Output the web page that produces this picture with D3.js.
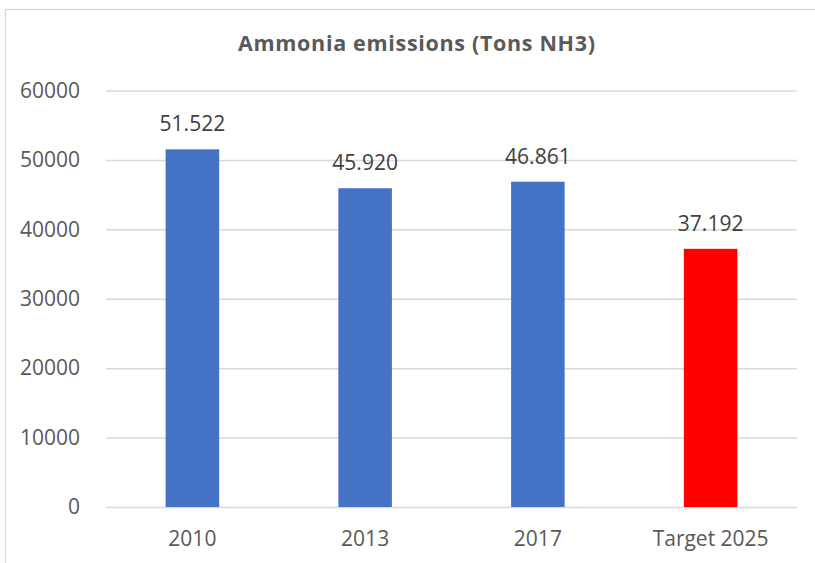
<!DOCTYPE html>
<html>
<head>
<meta charset="utf-8">
<script src="https://cdn.jsdelivr.net/npm/d3@7"></script>
<style>
  body { margin: 0; background: #fff; }
  svg { display: block; }
</style>
</head>
<body>
<div id="chart-container"></div>
<script>
// Data
const categories = ["2010", "2013", "2017", "Target 2025"];
const values = [51522, 45920, 46861, 37192];
const valueLabels = ["51.522", "45.920", "46.861", "37.192"];
const barColors = ["#4472C4", "#4472C4", "#4472C4", "#FF0000"];
const yTicks = [0, 10000, 20000, 30000, 40000, 50000, 60000];

const W = 815, H = 563;
const margin = { top: 90.5, right: 18, bottom: 56, left: 106 };
const width = W - margin.left - margin.right;
const height = H - margin.top - margin.bottom;

var root = d3.select("#chart-container")
    .append("svg")
    .attr("width", W)
    .attr("height", H);

// chart border (right and bottom edges fall off the picture)
root.append("rect")
    .attr("x", 5.5)
    .attr("y", 9.5)
    .attr("width", 830)
    .attr("height", 600)
    .attr("fill", "#fff")
    .attr("stroke", "#d9d9d9")
    .attr("stroke-width", 1.3);

// Title
root.append("text")
    .attr("x", 416.5)
    .attr("y", 50.5)
    .attr("text-anchor", "middle")
    .attr("textLength", 357)
    .attr("lengthAdjust", "spacing")
    .style("font-family", "'Open Sans', sans-serif")
    .style("font-weight", 700)
    .style("font-size", "21.5px")
    .style("fill", "#595959")
    .text("Ammonia emissions (Tons NH3)");

var svg = root.append("g")
    .attr("transform", `translate(${margin.left}, ${margin.top})`);

var x = d3.scaleBand()
    .domain(categories)
    .range([0, width])
    .paddingInner(0.69)
    .paddingOuter(0.345);

var y = d3.scaleLinear()
    .domain([0, 60000])
    .range([height, 0]);

// Gridlines
svg.append("g")
    .attr("class", "grid")
    .call(d3.axisLeft(y)
        .tickValues(yTicks)
        .tickSize(-width)
        .tickFormat("")
    )
    .call(g => g.select(".domain").remove())
    .selectAll(".tick line")
    .attr("stroke", "#d9d9d9")
    .attr("stroke-width", 1.5);

// Bars
svg.selectAll(".bar")
    .data(values)
    .enter()
    .append("rect")
    .attr("class", "bar")
    .attr("x", (d, i) => x(categories[i]))
    .attr("y", d => y(d))
    .attr("width", x.bandwidth())
    .attr("height", d => height - y(d))
    .attr("fill", (d, i) => barColors[i]);

// Value labels
svg.selectAll(".val")
    .data(values)
    .enter()
    .append("text")
    .attr("class", "val")
    .attr("x", (d, i) => x(categories[i]) + x.bandwidth() / 2)
    .attr("y", d => y(d) - 18)
    .attr("text-anchor", "middle")
    .style("font-family", "'Open Sans', sans-serif")
    .style("font-size", "21px")
    .style("fill", "#404040")
    .text((d, i) => valueLabels[i]);

// Y axis labels
svg.append("g")
    .attr("transform", "translate(-23, 0)")
    .call(d3.axisLeft(y).tickValues(yTicks).tickSize(0).tickFormat(d => String(d)))
    .call(g => g.select(".domain").remove())
    .selectAll("text")
    .style("font-family", "'Open Sans', sans-serif")
    .style("font-size", "21px")
    .style("fill", "#595959");

// X axis labels
svg.append("g")
    .attr("transform", `translate(0, ${height})`)
    .call(d3.axisBottom(x).tickSize(0).tickPadding(24))
    .call(g => g.select(".domain").remove())
    .selectAll("text")
    .style("font-family", "'Open Sans', sans-serif")
    .style("font-size", "21px")
    .style("fill", "#595959");
</script>
</body>
</html>
